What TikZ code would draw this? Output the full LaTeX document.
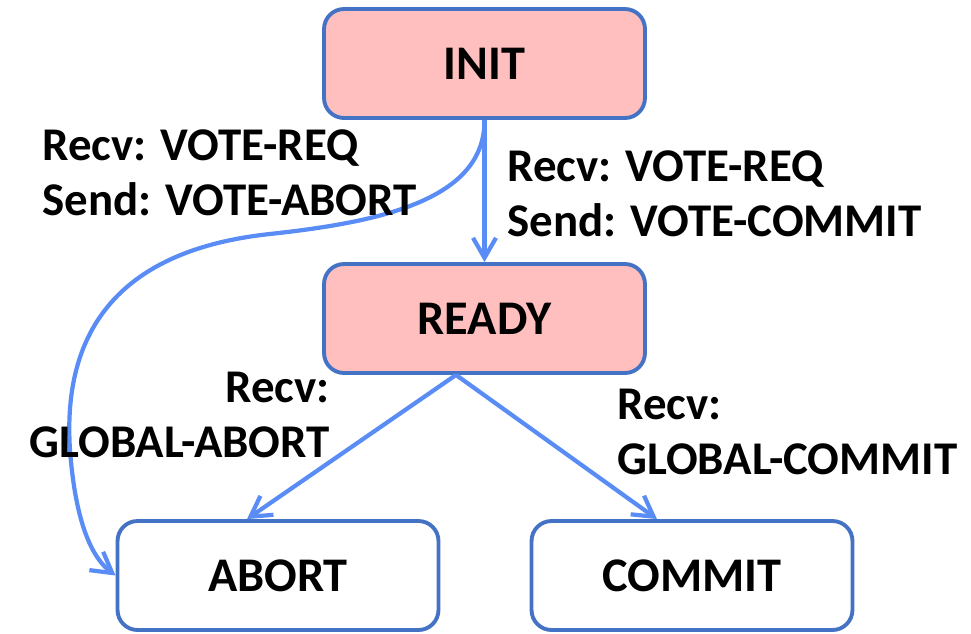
\documentclass[tikz,border=0pt]{standalone}
\usepackage{fontspec}
\setmainfont{Carlito}
\usetikzlibrary{arrows.meta}

\definecolor{boxline}{RGB}{68,114,196}
\definecolor{boxfill}{RGB}{255,191,191}
\definecolor{arrowblue}{RGB}{90,140,245}

\tikzset{
  state/.style={draw=boxline, line width=2.2pt, rounded corners=0.4cm,
    minimum width=6.42cm, minimum height=2.18cm, inner sep=0pt,
    font=\fontsize{27.5}{33}\selectfont\bfseries},
  active/.style={state, fill=boxfill},
  trans/.style={draw=arrowblue, line width=2.4pt,
    -{Straight Barb[length=0.4cm, width=0.46cm, line width=2.4pt]}},
  msg/.style={inner sep=0pt, font=\fontsize{26.7}{31.3}\selectfont\bfseries}
}

\begin{document}
\begin{tikzpicture}[x=0.02cm, y=-0.02cm]
  \useasboundingbox (0,0) rectangle (971,633);

  % states
  \node[active] (init)  at (484.5,63.5)  {INIT};
  \node[active] (ready) at (484.5,318.5) {READY};
  \node[state]  (abort) at (278,575.5)   {ABORT};
  \node[state]  (commit) at (692,575.5)  {COMMIT};

  % transitions
  \draw[trans] (init.south) -- (ready.north);
  \draw[trans] (init.south) .. controls (485,200) and (380,222) .. (270,234)
    .. controls (120,250) and (62,330) .. (70,450)
    .. controls (76,530) and (95,560) .. (abort.west);
  \draw[trans] ([xshift=-0.57cm]ready.south) -- ([xshift=-0.62cm]abort.north);
  \draw[trans] ([xshift=-0.57cm]ready.south) -- ([xshift=-0.7cm]commit.north);

  % labels (base = last line)
  \node[msg, anchor=base west, align=left] (lababort) at (42,215)
    {Recv: VOTE-REQ\\Send: VOTE-ABORT};
  \node[msg, anchor=base west, align=left] (labready) at (507,236)
    {Recv: VOTE-REQ\\Send: VOTE-COMMIT};
  \node[msg, anchor=base east, align=right] (labgabort) at (330,457)
    {Recv:\\GLOBAL-ABORT};
  \node[msg, anchor=base west, align=left] (labgcommit) at (617,474)
    {Recv:\\GLOBAL-COMMIT};
\end{tikzpicture}
\end{document}
